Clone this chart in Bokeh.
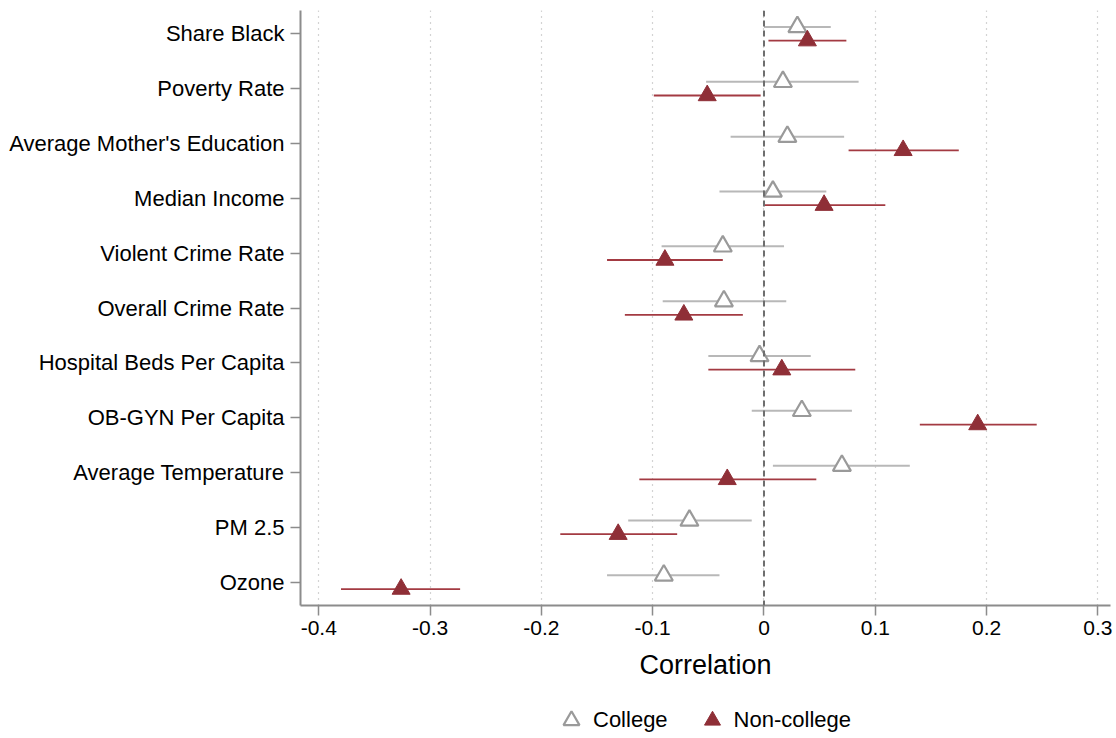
from bokeh.plotting import figure
from bokeh.layouts import column
from bokeh.models import Range1d, FixedTicker, Span, Legend, LegendItem, ColumnDataSource
from bokeh.embed import file_html
from bokeh.resources import INLINE

categories = ["Share Black", "Poverty Rate", "Average Mother's Education", "Median Income",
              "Violent Crime Rate", "Overall Crime Rate", "Hospital Beds Per Capita",
              "OB-GYN Per Capita", "Average Temperature", "PM 2.5", "Ozone"]

college_est = [0.030, 0.017, 0.021, 0.008, -0.037, -0.036, -0.004, 0.034, 0.070, -0.067, -0.090]
college_lo = [0.000, -0.052, -0.030, -0.040, -0.092, -0.091, -0.050, -0.011, 0.008, -0.122, -0.141]
college_hi = [0.060, 0.085, 0.072, 0.056, 0.018, 0.020, 0.042, 0.079, 0.131, -0.011, -0.040]

noncollege_est = [0.039, -0.051, 0.125, 0.054, -0.089, -0.072, 0.016, 0.192, -0.033, -0.131, -0.326]
noncollege_lo = [0.004, -0.099, 0.076, 0.000, -0.141, -0.125, -0.050, 0.140, -0.112, -0.183, -0.380]
noncollege_hi = [0.074, -0.003, 0.175, 0.109, -0.037, -0.019, 0.082, 0.245, 0.047, -0.078, -0.273]

x_ticks = [-0.4, -0.3, -0.2, -0.1, 0.0, 0.1, 0.2, 0.3]
x_tick_labels = ["-0.4", "-0.3", "-0.2", "-0.1", "0", "0.1", "0.2", "0.3"]

n = len(categories)
base = [n - i for i in range(n)]
off = 0.125

src_c = ColumnDataSource(dict(y=[b + off for b in base], est=college_est, lo=college_lo, hi=college_hi))
src_n = ColumnDataSource(dict(y=[b - off for b in base], est=noncollege_est, lo=noncollege_lo, hi=noncollege_hi))

FONT = "Liberation Sans"
GREY_M = "#9a9a9a"
GREY_L = "#b8b8b8"
RED = "#8f2f37"
RED_L = "#a33a42"

fig = figure(width=1116, height=690, output_backend="svg", toolbar_location=None,
             x_range=Range1d(-0.4164, 0.3113), y_range=Range1d(0.575, 11.425),
             min_border_left=300, min_border_right=6, min_border_top=10, min_border_bottom=85)
fig.outline_line_color = None
fig.background_fill_color = "white"
fig.border_fill_color = "white"

# grids
fig.ygrid.visible = False
fig.xgrid.ticker = FixedTicker(ticks=x_ticks)
fig.xgrid.grid_line_color = "#a8a8a8"
fig.xgrid.grid_line_dash = "1 5"
fig.xgrid.grid_line_width = 1.2

# axes
fig.xaxis.ticker = FixedTicker(ticks=x_ticks)
fig.xaxis.major_label_overrides = {t: l for t, l in zip(x_ticks, x_tick_labels)}
fig.yaxis.ticker = FixedTicker(ticks=base)
fig.yaxis.major_label_overrides = {b: c for b, c in zip(base, categories)}
for ax in (fig.xaxis[0], fig.yaxis[0]):
    ax.axis_line_color = "#8c8c8c"
    ax.axis_line_width = 2
    ax.major_tick_line_color = "#8c8c8c"
    ax.major_tick_line_width = 1.5
    ax.major_tick_in = 0
    ax.major_tick_out = 10
    ax.minor_tick_line_color = None
    ax.major_label_text_font = FONT
    ax.major_label_text_color = "black"
fig.xaxis.major_label_text_font_size = "21px"
fig.yaxis.major_label_text_font_size = "22px"
fig.xaxis.major_label_standoff = 5
fig.yaxis.major_label_standoff = 6
fig.xaxis.axis_label = "Correlation"
fig.xaxis.axis_label_text_font = FONT
fig.xaxis.axis_label_text_font_size = "27px"
fig.xaxis.axis_label_text_font_style = "normal"
fig.xaxis.axis_label_text_color = "black"
fig.xaxis.axis_label_standoff = 12

# glyphs
c_line = dict(line_color=GREY_L, line_width=2)
c_mark = dict(marker="triangle", size=18, fill_color="white", line_color=GREY_M, line_width=2.2)
n_line = dict(line_color=RED_L, line_width=1.8)
n_mark = dict(marker="triangle", size=18, fill_color=RED, line_color=RED, line_width=1)

fig.segment(x0="lo", y0="y", x1="hi", y1="y", source=src_c, **c_line)
fig.scatter(x="est", y="y", source=src_c, **c_mark)
fig.segment(x0="lo", y0="y", x1="hi", y1="y", source=src_n, **n_line)
fig.scatter(x="est", y="y", source=src_n, **n_mark)

zero = Span(location=0, dimension="height", line_color="#6e6e6e", line_width=2, line_dash="6 4")
fig.add_layout(zero)

# legend strip (its own frame is aligned with the main frame; the data lie outside its ranges)
leg = figure(width=1116, height=48, output_backend="svg", toolbar_location=None,
             x_range=Range1d(0, 1), y_range=Range1d(-10, -9),
             min_border=0, x_axis_location=None, y_axis_location=None)
leg.outline_line_color = None
leg.xgrid.visible = False
leg.ygrid.visible = False
leg.background_fill_color = "white"
leg.border_fill_color = "white"
lr_c = leg.scatter(x="est", y="y", source=src_c, **c_mark)
lr_n = leg.scatter(x="est", y="y", source=src_n, **n_mark)
legend = Legend(items=[LegendItem(label="College", renderers=[lr_c], index=0),
                       LegendItem(label="Non-college", renderers=[lr_n], index=0)],
                location=(251, -2), orientation="horizontal",
                border_line_color=None, background_fill_alpha=0,
                padding=0, margin=0, spacing=24,
                glyph_width=40, glyph_height=40, label_standoff=2,
                label_text_font=FONT, label_text_font_size="22px", label_text_color="black")
leg.add_layout(legend, "center")

p = column(fig, leg, spacing=0)

open("out.html", "w").write(file_html(p, INLINE))
